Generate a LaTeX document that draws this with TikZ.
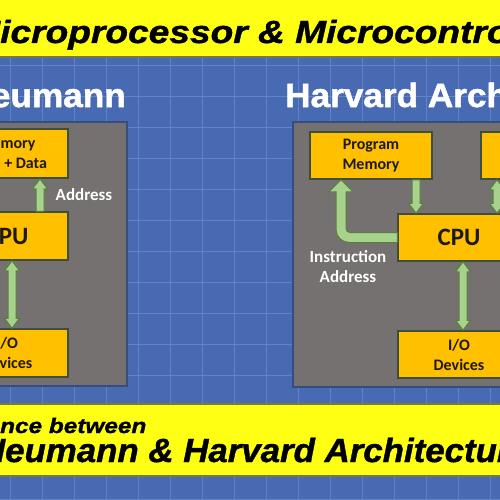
\documentclass[tikz,border=0pt]{standalone}
\usepackage{fontspec}
\setmainfont{Liberation Sans}
\newfontfamily\bannerfont[FakeStretch=1.16,FakeBold=1.2]{Liberation Sans}
\newfontfamily\subfont[FakeStretch=1.04,FakeBold=1.2]{Liberation Sans}
\newfontfamily\headfont[FakeStretch=1.05,FakeBold=1.5]{Liberation Sans}
\newfontfamily\boxfont{Carlito}
\usetikzlibrary{calc}
\definecolor{bgblue}{RGB}{72,106,178}
\definecolor{gridblue}{RGB}{98,132,198}
\definecolor{ybanner}{RGB}{255,255,20}
\definecolor{ybord}{RGB}{120,120,70}
\definecolor{panelgray}{RGB}{118,113,113}
\definecolor{panelbord}{RGB}{55,78,125}
\definecolor{boxorange}{RGB}{255,192,0}
\definecolor{boxbord}{RGB}{62,78,58}
\definecolor{arrfill}{RGB}{169,209,142}
\definecolor{arrbord}{RGB}{84,130,53}
\definecolor{boxtext}{RGB}{30,25,10}
\tikzset{
  gridline/.style={draw=gridblue,line width=0.9pt},
  panel/.style={fill=panelgray,draw=panelbord,line width=1.5pt},
  obox/.style={draw=boxbord,fill=boxorange,line width=1.5pt,inner sep=0pt,
    align=center,text=boxtext,minimum width=122pt,
    font=\boxfont\bfseries\fontsize{16}{20}\selectfont},
  cpubox/.style={obox,font=\boxfont\bfseries\fontsize{25}{28}\selectfont},
  fatarrow/.style={fill=arrfill,draw=arrbord,line width=1pt,line join=miter},
  lbl/.style={text=white,inner sep=0pt,align=center,
    font=\boxfont\bfseries\fontsize{17}{19.5}\selectfont},
  heading/.style={text=white,inner sep=0pt,
    font=\headfont\bfseries\fontsize{33.5}{36}\selectfont},
  bannertext/.style={text=black,inner sep=0pt}
}
% vertical fat single arrow from #1 to #2
\newcommand\vsingle[2]{%
  \path[fatarrow] let \p1=(#1), \p2=(#2), \n1={ifthenelse(\y2>\y1,1,-1)} in
    (\x1-4pt,\y1) -- (\x1-4pt,\y2-\n1*10pt) -- (\x1-7.5pt,\y2-\n1*10pt) -- (\x1,\y2)
    -- (\x1+7.5pt,\y2-\n1*10pt) -- (\x1+4pt,\y2-\n1*10pt) -- (\x1+4pt,\y1) -- cycle;}
% vertical fat double arrow between #1 and #2
\newcommand\vdouble[2]{%
  \path[fatarrow] let \p1=(#1), \p2=(#2), \n1={ifthenelse(\y2>\y1,1,-1)} in
    (\x1,\y1) -- (\x1-7.5pt,\y1+\n1*10pt) -- (\x1-4pt,\y1+\n1*10pt)
    -- (\x1-4pt,\y2-\n1*10pt) -- (\x1-7.5pt,\y2-\n1*10pt) -- (\x1,\y2)
    -- (\x1+7.5pt,\y2-\n1*10pt) -- (\x1+4pt,\y2-\n1*10pt)
    -- (\x1+4pt,\y1+\n1*10pt) -- (\x1+7.5pt,\y1+\n1*10pt) -- cycle;}
\begin{document}
\begin{tikzpicture}[x=1pt,y=-1pt]
\useasboundingbox (0,0) rectangle (500,500);
\clip (0,0) rectangle (500,500);
% background and grid
\fill[bgblue] (0,0) rectangle (500,500);
\foreach \gx in {10,42,...,490} \draw[gridline] (\gx,57) -- (\gx,500);
\foreach \gy in {65,96,...,499} \draw[gridline] (0,\gy) -- (500,\gy);
% top banner
\path[fill=ybanner] (-5,-5) rectangle (505,57);
\draw[ybord,line width=2pt] (-5,57) -- (505,57);
\node[bannertext,anchor=base west,font=\bannerfont\bfseries\itshape\fontsize{32}{36}\selectfont]
  (title) at (0,43) {\llap{M}icroprocessor \& Microcontroller};
% headings
\node[heading,anchor=base east] (vnhead) at (126,107) {Von Neumann};
\node[heading,anchor=base west] (hvhead) at (285,107) {Harvard Architecture};
% panels
\path[panel] (-10,122) rectangle (127,386);
\path[panel] (293,122) rectangle (515,387);
% Von Neumann boxes
\node[obox,minimum height=49pt] (memL) at (7,153.5) {Memory\\Code + Data};
\node[cpubox,minimum height=48pt] (cpuL) at (7,236) {CPU};
\node[obox,minimum height=48pt] (ioL) at (7,353) {I/O\\Devices};
% Harvard boxes
\node[obox,minimum height=47pt] (pmem) at (371,155.5) {Program\\Memory};
\node[obox,minimum height=47pt] (dmem) at (542,155.5) {Data\\Memory};
\node[cpubox,minimum height=47pt] (cpuR) at (459,237.5) {CPU};
\node[obox,minimum height=47pt] (ioR) at (459,354.5) {I/O\\Devices};
% Von Neumann arrows
\coordinate (a1) at ($(cpuL.north)+(33,0)$);
\coordinate (a2) at (a1 |- memL.south);
\vsingle{a1}{a2}
\coordinate (b1) at ($(cpuL.south)+(5,0)$);
\coordinate (b2) at (b1 |- ioL.north);
\vdouble{b1}{b2}
\node[lbl] (addrL) at (84,195) {Address};
% Harvard arrows
\coordinate (c1) at ($(pmem.south)+(45,0)$);
\coordinate (c2) at (c1 |- cpuR.north);
\vsingle{c1}{c2}
\coordinate (d1) at ($(dmem.south)+(-45,0)$);
\coordinate (d2) at (d1 |- cpuR.north);
\vdouble{d1}{d2}
\coordinate (e1) at ($(cpuR.south)+(4,0)$);
\coordinate (e2) at (e1 |- ioR.north);
\vdouble{e1}{e2}
% bent instruction address arrow
\path[fatarrow] let \p1=(cpuR.west), \p2=(pmem.south) in
  (\x1,\y1+5pt) [rounded corners=4pt] -- (\x2-25pt,\y1+5pt) [sharp corners]
  -- (\x2-25pt,\y2-12pt) -- (\x2-18pt,\y2-12pt) -- (\x2-30pt,\y2)
  -- (\x2-42pt,\y2-12pt) -- (\x2-35pt,\y2-12pt) [rounded corners=13pt]
  -- (\x2-35pt,\y1-5pt) [sharp corners] -- (\x1,\y1-5pt) -- cycle;
\node[lbl] (instr) at (348,266.5) {Instruction\\Address};
% bottom banner
\path[fill=ybanner,draw=ybord,line width=1.5pt] (-5,404) rectangle (505,476);
\node[bannertext,anchor=base west,font=\bannerfont\bfseries\itshape\fontsize{21}{24}\selectfont]
  (sub1) at (0,433) {\llap{Differe}nce between};
\node[bannertext,anchor=base west,font=\subfont\bfseries\itshape\fontsize{33.5}{36}\selectfont]
  (sub2) at (5,462) {\llap{Von N}eumann \& Harvard Architecture};
\end{tikzpicture}
\end{document}
